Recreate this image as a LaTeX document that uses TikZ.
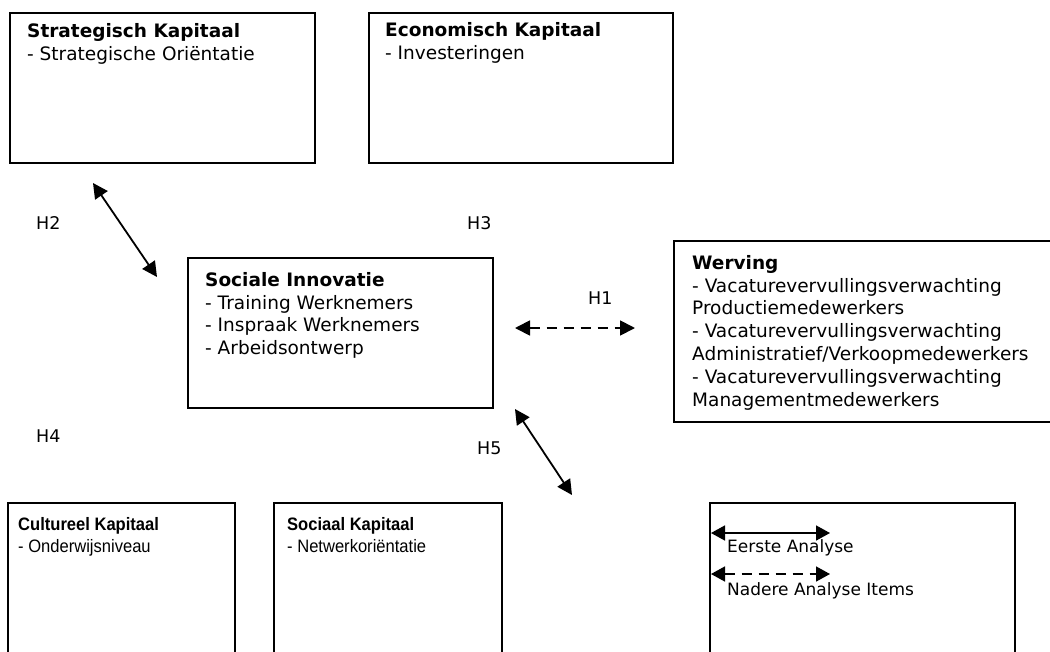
\documentclass[tikz,border=0pt]{standalone}
\usepackage{fontspec}
\setmainfont{DejaVu Sans}
\newfontfamily\narrowsans[FakeStretch=0.92]{Liberation Sans}
\usetikzlibrary{arrows.meta}
\newcommand{\firstline}{\rule{0pt}{15pt}}
\begin{document}
\begin{tikzpicture}[x=1pt,y=-1pt,
  box/.style={draw, line width=2pt, rectangle, anchor=north west, inner sep=0pt, outer sep=0pt},
  txt/.style={anchor=north west, align=left, inner sep=0pt, font=\fontsize{18.5}{22.8}\selectfont},
  btxt/.style={anchor=north west, align=left, inner sep=0pt, font=\narrowsans\fontsize{18}{22}\selectfont},
  hlab/.style={anchor=base west, inner sep=0pt, font=\fontsize{17.5}{21}\selectfont},
  leg/.style={anchor=base west, inner sep=0pt, font=\fontsize{17}{21}\selectfont},
  rel/.style={line width=1.8pt, {Triangle[length=15pt,width=15pt]}-{Triangle[length=15pt,width=15pt]}},
  reld/.style={rel, dash pattern=on 10pt off 7pt},
  legrel/.style={line width=1.6pt, {Triangle[length=14pt,width=15pt]}-{Triangle[length=14pt,width=15pt]}},
  legreld/.style={legrel, dash pattern=on 10pt off 7pt},
]
\useasboundingbox (0,0) rectangle (1050,651);
\clip (0,0) rectangle (1050,651);

% boxes
\node[box, minimum width=305pt, minimum height=150pt] (strat) at (10,13) {};
\node[box, minimum width=304pt, minimum height=150pt] (econ) at (369,13) {};
\node[box, minimum width=305pt, minimum height=150pt] (innov) at (188,258) {};
\node[box, minimum width=400pt, minimum height=181pt] (werv) at (674,241) {};
\node[box, minimum width=227pt, minimum height=170pt] (cult) at (8,503) {};
\node[box, minimum width=228pt, minimum height=170pt] (sociaal) at (274,503) {};
\node[box, minimum width=305pt, minimum height=170pt] (legend) at (710,503) {};

% texts (top = first baseline - 15)
\node[txt] (tstrat) at (27,22) {\firstline\textbf{Strategisch Kapitaal}\\- Strategische Oriëntatie};
\node[txt] (tecon) at (385,21) {\firstline\textbf{Economisch Kapitaal}\\- Investeringen};
\node[txt] (tinnov) at (205,271) {\firstline\textbf{Sociale Innovatie}\\- Training Werknemers\\- Inspraak Werknemers\\- Arbeidsontwerp};
\node[txt] (twerv) at (692,254) {\firstline\textbf{Werving}\\- Vacaturevervullingsverwachting\\Productiemedewerkers\\- Vacaturevervullingsverwachting\\Administratief/Verkoopmedewerkers\\- Vacaturevervullingsverwachting\\Managementmedewerkers};
\node[btxt] (tcult) at (18,515) {\firstline\textbf{Cultureel Kapitaal}\\- Onderwijsniveau};
\node[btxt] (tsociaal) at (287,515) {\firstline\textbf{Sociaal Kapitaal}\\- Netwerkoriëntatie};

% hypothesis labels
\node[hlab] (h2) at (36,229) {H2};
\node[hlab] (h3) at (467,229) {H3};
\node[hlab] (h1) at (588,304) {H1};
\node[hlab] (h4) at (36,442) {H4};
\node[hlab] (h5) at (477,454) {H5};

% connector end points
\coordinate (h2a) at (93,183);
\coordinate (h2b) at (157,277);
\coordinate (h1a) at (515,328);
\coordinate (h1b) at (635,328);
\coordinate (h5a) at (515,409);
\coordinate (h5b) at (572,495);
\coordinate (l1a) at (711,533);
\coordinate (l1b) at (830,533);
\coordinate (l2a) at (711,574);
\coordinate (l2b) at (830,574);

\draw[rel] (h2a) -- (h2b);
\draw[reld] (h1a) -- (h1b);
\draw[rel] (h5a) -- (h5b);

% legend
\draw[legrel] (l1a) -- (l1b);
\node[leg] (leg1) at (727,552) {Eerste Analyse};
\draw[legreld] (l2a) -- (l2b);
\node[leg] (leg2) at (727,595) {Nadere Analyse Items};
\end{tikzpicture}
\end{document}
